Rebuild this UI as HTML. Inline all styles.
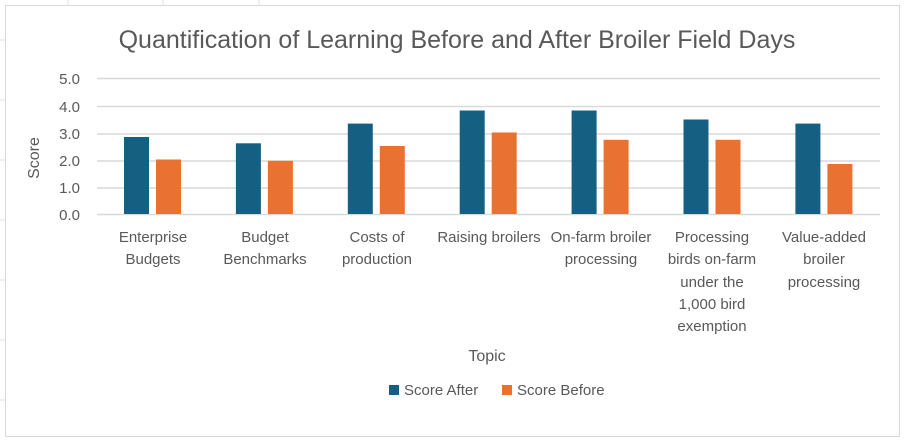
<!DOCTYPE html>
<html><head><style>
body{margin:0;background:#fff;width:904px;height:439px;overflow:hidden;font-family:"Liberation Sans",sans-serif}
</style></head><body>
<svg width="904" height="439" xmlns="http://www.w3.org/2000/svg" font-family="Liberation Sans, sans-serif" fill="#595959">
<g stroke="#e1e1e1" stroke-width="1">
<line x1="68" y1="0" x2="68" y2="5"/><line x1="163" y1="0" x2="163" y2="5"/><line x1="259" y1="0" x2="259" y2="5"/>
<line x1="0" y1="40" x2="5" y2="40"/><line x1="0" y1="100" x2="5" y2="100"/><line x1="0" y1="160" x2="5" y2="160"/><line x1="0" y1="220" x2="5" y2="220"/><line x1="0" y1="280" x2="5" y2="280"/><line x1="0" y1="340" x2="5" y2="340"/><line x1="0" y1="400" x2="5" y2="400"/>
</g>
<rect x="5.5" y="5.5" width="894" height="431" fill="#fff" stroke="#d9d9d9"/>
<text x="457" y="48" font-size="25" text-anchor="middle">Quantification of Learning Before and After Broiler Field Days</text>
<g stroke="#d9d9d9" stroke-width="1.5">
<line x1="97" y1="78.5" x2="880" y2="78.5"/><line x1="97" y1="106.5" x2="880" y2="106.5"/><line x1="97" y1="134" x2="880" y2="134"/><line x1="97" y1="161" x2="880" y2="161"/><line x1="97" y1="188" x2="880" y2="188"/><line x1="97" y1="214.5" x2="880" y2="214.5"/>
</g>
<g font-size="15" text-anchor="end">
<text x="80" y="84">5.0</text><text x="80" y="112">4.0</text><text x="80" y="139">3.0</text><text x="80" y="166">2.0</text><text x="80" y="193">1.0</text><text x="80" y="220">0.0</text>
</g>
<text transform="translate(39,158) rotate(-90)" font-size="16" text-anchor="middle">Score</text>
<g fill="#156082">
<rect x="124" y="137" width="25" height="77"/>
<rect x="235.9" y="143.3" width="25" height="70.7"/>
<rect x="347.8" y="123.6" width="25" height="90.4"/>
<rect x="459.7" y="110.5" width="25" height="103.5"/>
<rect x="571.6" y="110.5" width="25" height="103.5"/>
<rect x="683.5" y="119.5" width="25" height="94.5"/>
<rect x="795.4" y="123.6" width="25" height="90.4"/>
</g>
<g fill="#e97132">
<rect x="156" y="159.5" width="25" height="54.5"/>
<rect x="267.9" y="160.8" width="25" height="53.2"/>
<rect x="379.8" y="146" width="25" height="68"/>
<rect x="491.7" y="132.5" width="25" height="81.5"/>
<rect x="603.6" y="139.8" width="25" height="74.2"/>
<rect x="715.5" y="139.8" width="25" height="74.2"/>
<rect x="827.4" y="164" width="25" height="50"/>
</g>
<g font-size="15" text-anchor="middle">
<text x="153" y="242">Enterprise</text><text x="153" y="264">Budgets</text>
<text x="265" y="242">Budget</text><text x="265" y="264">Benchmarks</text>
<text x="377" y="242">Costs of</text><text x="377" y="264">production</text>
<text x="489" y="242">Raising broilers</text>
<text x="601" y="242">On-farm broiler</text><text x="601" y="264">processing</text>
<text x="712" y="242">Processing</text><text x="712" y="264">birds on-farm</text><text x="712" y="287">under the</text><text x="712" y="309">1,000 bird</text><text x="712" y="331">exemption</text>
<text x="824" y="242">Value-added</text><text x="824" y="264">broiler</text><text x="824" y="287">processing</text>
</g>
<text x="487" y="361" font-size="16" text-anchor="middle">Topic</text>
<rect x="389" y="385" width="10" height="10" fill="#156082"/><text x="404" y="395" font-size="15">Score After</text>
<rect x="502" y="385" width="10" height="10" fill="#e97132"/><text x="517" y="395" font-size="15">Score Before</text>
</svg>
</body></html>
